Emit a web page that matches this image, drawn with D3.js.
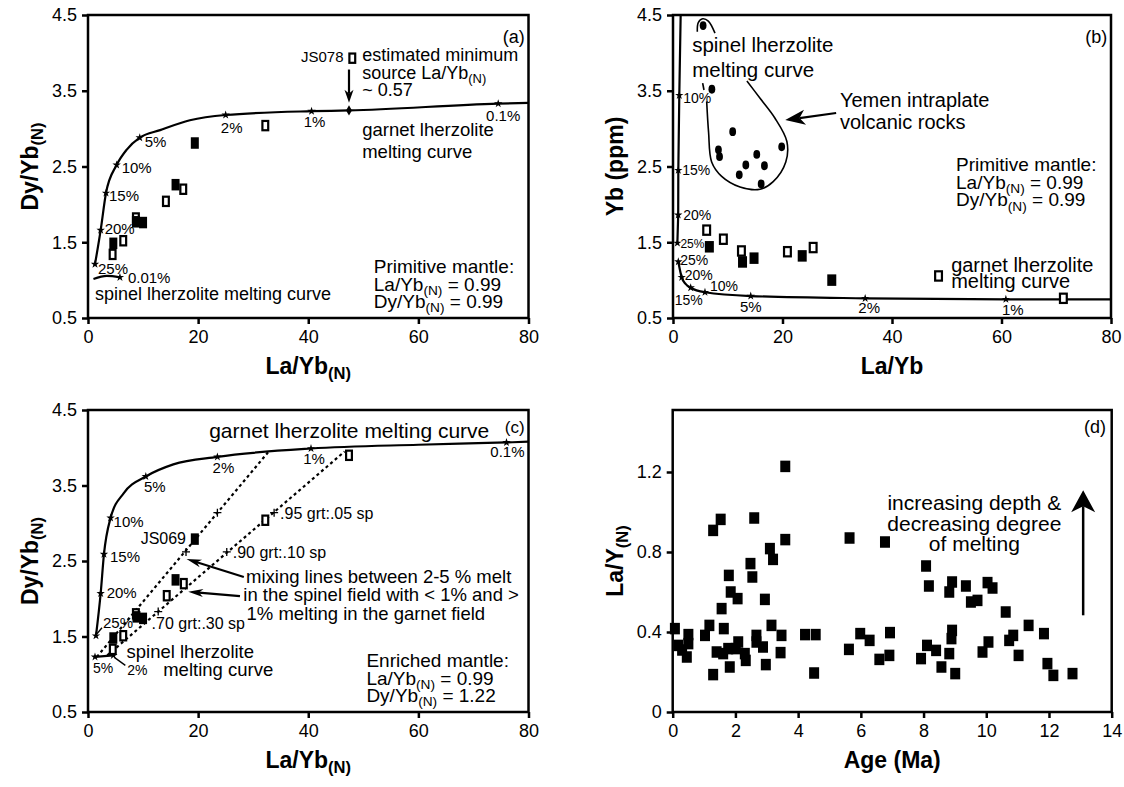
<!DOCTYPE html>
<html><head><meta charset="utf-8">
<script src="https://cdn.jsdelivr.net/npm/d3@7"></script>
<style>
body{margin:0;background:#fff;}
svg{display:block;}
text{white-space:pre;}
</style></head><body>
<svg id="chart" width="1124" height="787"></svg>
<script>
// ================= DATA =================
// ---- Panel (a): Dy/Yb(N) vs La/Yb(N), primitive mantle source ----
const aXTicks = [0, 20, 40, 60, 80];
const aXTickLabels = ["0", "20", "40", "60", "80"];
const aYTicks = [0.5, 1.5, 2.5, 3.5, 4.5];
const aYTickLabels = ["0.5", "1.5", "2.5", "3.5", "4.5"];
const aGarnetCurveX = [1.27, 2.3, 3.27, 5.2, 7.0, 9.4, 13.1, 18.5, 25.0, 40.6, 47.4, 74.5, 80];
const aGarnetCurveY = [1.21, 1.66, 2.15, 2.52, 2.72, 2.88, 2.98, 3.11, 3.18, 3.23, 3.24, 3.33, 3.34];
const aMeltLabels = ["25%", "20%", "15%", "10%", "5%", "2%", "1%", "0.1%"];
const aMeltX = [1.27, 2.3, 3.27, 5.2, 9.4, 25.0, 40.6, 74.5];
const aMeltY = [1.21, 1.66, 2.15, 2.52, 2.88, 3.18, 3.23, 3.33];
const aSpinelX = [0.99, 3.4, 5.8];
const aSpinelY = [1.015, 1.055, 1.037];
const aSpinelMarkLabel = "0.01%";
const aOpenX = [4.47, 6.4, 8.7, 14.15, 17.3, 32.2, 48.0];
const aOpenY = [1.34, 1.52, 1.82, 2.04, 2.20, 3.04, 3.93];
const aFilledX = [4.6, 8.7, 10.0, 15.9, 19.4];
const aFilledY = [1.486, 1.77, 1.76, 2.26, 2.81];
const aMinSource = [47.4, 3.24];

// ---- Panel (b): Yb (ppm) vs La/Yb ----
const bXTicks = [0, 20, 40, 60, 80];
const bXTickLabels = ["0", "20", "40", "60", "80"];
const bYTicks = [0.5, 1.5, 2.5, 3.5, 4.5];
const bYTickLabels = ["0.5", "1.5", "2.5", "3.5", "4.5"];
const bSpinelX = [1.4, 1.15, 0.97, 0.95, 0.8];
const bSpinelY = [4.5, 3.44, 2.45, 1.86, 1.49];
const bSpinelMarkLabels = ["10%", "15%", "20%", "25%"];
const bSpinelMarkX = [1.15, 0.97, 0.95, 0.8];
const bSpinelMarkY = [3.44, 2.45, 1.86, 1.49];
const bGarnetCurveX = [0.97, 1.59, 2.3, 3.23, 5.84, 14.2, 35.1, 60.8, 80];
const bGarnetCurveY = [1.243, 1.037, 0.95, 0.90, 0.84, 0.79, 0.76, 0.747, 0.745];
const bGarnetMarkLabels = ["25%", "20%", "15%", "10%", "5%", "2%", "1%"];
const bGarnetMarkX = [0.97, 1.59, 3.23, 5.84, 14.2, 35.1, 60.8];
const bGarnetMarkY = [1.243, 1.037, 0.90, 0.84, 0.79, 0.76, 0.747];
const bOpenX = [6.15, 9.2, 12.5, 20.9, 25.6, 48.5, 71.3];
const bOpenY = [1.66, 1.54, 1.385, 1.375, 1.43, 1.055, 0.76];
const bFilledX = [6.64, 12.7, 14.8, 23.6, 29.0];
const bFilledY = [1.44, 1.24, 1.29, 1.32, 1.0];
const bYemenX = [5.5, 7.1, 10.9, 8.3, 8.5, 15.3, 19.85, 13.3, 16.7, 12.1, 16.1];
const bYemenY = [4.36, 3.52, 2.96, 2.72, 2.63, 2.66, 2.76, 2.52, 2.51, 2.39, 2.27];
const bEnvelopeX = [6.15, 6.5, 7.06, 8.89, 12.24, 15.9, 18.3, 20.6, 20.8, 18.6, 15.9, 13.5];
const bEnvelopeY = [3.36, 2.95, 2.56, 2.37, 2.23, 2.20, 2.30, 2.56, 2.83, 3.14, 3.40, 3.63];
const bEnvelopeTopX = [4.44, 4.62, 5.42, 6.45, 7.67];
const bEnvelopeTopY = [4.28, 4.40, 4.45, 4.42, 4.26];
const bEnvelopeTickX = [5.42, 5.66];
const bEnvelopeTickY = [3.60, 3.51];

// ---- Panel (c): Dy/Yb(N) vs La/Yb(N), enriched mantle + mixing lines ----
const cXTicks = [0, 20, 40, 60, 80];
const cXTickLabels = ["0", "20", "40", "60", "80"];
const cYTicks = [0.5, 1.5, 2.5, 3.5, 4.5];
const cYTickLabels = ["0.5", "1.5", "2.5", "3.5", "4.5"];
const cGarnetCurveX = [1.45, 2.3, 2.9, 4.1, 6.5, 10.5, 15.5, 23.5, 40.5, 60, 76, 80];
const cGarnetCurveY = [1.51, 2.07, 2.59, 3.07, 3.40, 3.62, 3.78, 3.88, 3.99, 4.04, 4.07, 4.08];
const cMeltLabels = ["25%", "20%", "15%", "10%", "5%", "2%", "1%", "0.1%"];
const cMeltX = [1.45, 2.3, 2.9, 4.1, 10.5, 23.5, 40.5, 76];
const cMeltY = [1.51, 2.07, 2.59, 3.07, 3.62, 3.88, 3.99, 4.07];
const cSpinelX = [1.27, 4.6];
const cSpinelY = [1.23, 1.25];
const cSpinelMarkLabels = ["5%", "2%"];
const cMix1X = [1.6, 32.7];
const cMix1Y = [1.23, 3.94];
const cMix2X = [3.5, 46.6];
const cMix2Y = [1.25, 3.95];
const cMixTickX = [17.8, 23.5, 12.75, 25.2, 33.8];
const cMixTickY = [2.62, 3.14, 1.83, 2.62, 3.14];
const cMixLabels = [".70 grt:.30 sp", ".90 grt:.10 sp", ".95 grt:.05 sp"];
const cMixLabelX = [12.75, 25.2, 33.8];
const cMixLabelY = [1.83, 2.62, 3.14];
const cOpenX = [4.5, 6.4, 8.7, 14.3, 17.4, 32.2, 47.4];
const cOpenY = [1.33, 1.51, 1.80, 2.04, 2.20, 3.04, 3.90];
const cFilledX = [4.6, 8.8, 10.0, 15.9, 19.4];
const cFilledY = [1.48, 1.76, 1.74, 2.25, 2.79];

// ---- Panel (d): La/Y(N) vs Age (Ma) ----
const dXTicks = [0, 2, 4, 6, 8, 10, 12, 14];
const dXTickLabels = ["0", "2", "4", "6", "8", "10", "12", "14"];
const dYTicks = [0, 0.4, 0.8, 1.2];
const dYTickLabels = ["0", "0.4", "0.8", "1.2"];
const dAge = [0.07,0.50,0.18,0.50,0.45,0.30,1.03,1.17,1.29,1.53,1.29,1.40,1.56,1.63,1.61,1.77,1.82,1.79,1.85,2.07,
  2.09,2.01,2.33,2.30,2.48,2.54,2.60,2.67,2.67,2.88,2.94,2.97,3.10,3.20,3.15,3.47,3.44,3.59,3.59,4.22,
  4.56,4.51,5.64,5.62,5.98,6.28,6.59,6.91,6.93,6.77,7.92,8.08,8.17,8.11,8.40,8.57,8.82,8.91,8.91,8.89,
  8.82,9.01,9.35,9.51,9.72,10.04,10.2,9.88,10.07,10.62,10.73,10.86,11.03,11.35,11.84,11.95,12.14,12.75];
const dLaY = [0.417,0.387,0.333,0.342,0.275,0.31,0.383,0.433,0.908,0.963,0.187,0.30,0.517,0.417,0.292,0.317,0.225,0.683,0.60,0.567,
  0.35,0.317,0.258,0.292,0.742,0.675,0.97,0.383,0.35,0.325,0.563,0.237,0.817,0.763,0.433,0.383,0.297,1.228,0.862,0.387,
  0.387,0.195,0.87,0.313,0.392,0.358,0.263,0.283,0.397,0.85,0.267,0.73,0.63,0.333,0.308,0.225,0.60,0.65,0.408,0.367,
  0.292,0.192,0.63,0.55,0.558,0.647,0.62,0.30,0.35,0.50,0.358,0.383,0.283,0.433,0.392,0.242,0.183,0.192];

// ================= DRAWING =================
const FONT = '"Liberation Sans", Arial, Helvetica, sans-serif';
const svg = d3.select("#chart").attr("font-family", FONT);
svg.append("rect").attr("width", 1124).attr("height", 787).attr("fill", "#fff");

function makePanel(x0, x1, y0, y1, xDom, yDom) {
  return {
    x: d3.scaleLinear().domain(xDom).range([x0, x1]),
    y: d3.scaleLinear().domain(yDom).range([y1, y0])
  };
}
const PA = makePanel(88, 528.5, 15, 318, [0, 80], [0.5, 4.5]);
const PB = makePanel(673, 1111, 15, 318, [0, 80], [0.5, 4.5]);
const PC = makePanel(88, 528.5, 410, 712, [0, 80], [0.5, 4.5]);
const PD = makePanel(672.7, 1111.7, 410, 712, [0, 14], [0, 1.51]);

function richPx(x, y, parts, size, anchor, weight, rotate) {
  const t = svg.append("text")
    .attr("font-size", size).attr("text-anchor", anchor || "start")
    .attr("font-weight", weight || "normal").attr("fill", "#000");
  if (rotate) t.attr("transform", `translate(${x},${y}) rotate(-90)`);
  else t.attr("x", x).attr("y", y);
  let shifted = 0;
  for (const p of parts) {
    const sub = Array.isArray(p);
    const span = t.append("tspan").text(sub ? p[0] : p).attr("fill", "#000");
    const target = sub ? size * 0.22 : 0;
    if (target !== shifted) { span.attr("dy", target - shifted); shifted = target; }
    if (sub) span.attr("font-size", size * 0.72);
  }
  return t;
}
function rich(P, x, y, parts, size, anchor, weight) {
  return richPx(P.x(x), P.y(y), parts, size, anchor, weight);
}

function frameAndAxes(P, xt, xl, yt, yl, xTitle, yTitle) {
  const [x0, x1] = P.x.range(), [yb, yt0] = P.y.range();
  const gx = svg.append("g").attr("transform", `translate(0,${yb})`)
    .call(d3.axisBottom(P.x).tickValues(xt).tickFormat((d, i) => xl[i]).tickSize(6).tickPadding(6));
  const gy = svg.append("g").attr("transform", `translate(${x0},0)`)
    .call(d3.axisLeft(P.y).tickValues(yt).tickFormat((d, i) => yl[i]).tickSize(6).tickPadding(5));
  [gx, gy].forEach(g => {
    g.attr("font-family", FONT).attr("font-size", 18);
    g.select(".domain").remove();
    g.selectAll("line").attr("stroke", "#000").attr("stroke-width", 2.5);
    g.selectAll("text").attr("fill", "#000");
  });
  svg.append("rect").attr("x", x0).attr("y", yt0).attr("width", x1 - x0).attr("height", yb - yt0)
    .attr("fill", "none").attr("stroke", "#000").attr("stroke-width", 2.5);
  richPx((x0 + x1) / 2, yb + 56, xTitle, 23, "middle", "bold");
  richPx(x0 - 50, (yb + yt0) / 2, yTitle, 23, "middle", "bold", true);
}

function curve(P, xs, ys, curveType, opts) {
  opts = opts || {};
  const line = d3.line().x(d => P.x(d[0])).y(d => P.y(d[1])).curve(curveType || d3.curveLinear);
  const p = svg.append("path").attr("d", line(d3.zip(xs, ys))).attr("fill", "none")
    .attr("stroke", "#000").attr("stroke-width", opts.width || 2.2);
  if (opts.dash) p.attr("stroke-dasharray", opts.dash);
  return p;
}
function stars(P, xs, ys, size) {
  svg.append("g").selectAll("path").data(d3.zip(xs, ys)).join("path")
    .attr("transform", d => `translate(${P.x(d[0])},${P.y(d[1])})`)
    .attr("d", d3.symbol(d3.symbolStar, size || 22)()).attr("fill", "#000");
}
function labels(P, xs, ys, texts, offsets, size) {
  texts.forEach((t, i) => {
    const o = offsets[i];
    svg.append("text").attr("x", P.x(xs[i]) + o[0]).attr("y", P.y(ys[i]) + o[1])
      .attr("text-anchor", o[2] || "start").attr("font-size", o[3] || size).text(t);
  });
}
function squares(P, xs, ys, w, h, filled) {
  const sw = 2.2;
  svg.append("g").selectAll("rect").data(d3.zip(xs, ys)).join("rect")
    .attr("x", d => P.x(d[0]) - w / 2 + (filled ? 0 : sw / 2))
    .attr("y", d => P.y(d[1]) - h / 2 + (filled ? 0 : sw / 2))
    .attr("width", filled ? w : w - sw).attr("height", filled ? h : h - sw)
    .attr("fill", filled ? "#000" : "#fff")
    .attr("stroke", filled ? "none" : "#000").attr("stroke-width", sw);
}
function arrow(P, x1, y1, x2, y2, L, W, sw) {
  const X1 = P.x(x1), Y1 = P.y(y1), X2 = P.x(x2), Y2 = P.y(y2);
  const a = Math.atan2(Y2 - Y1, X2 - X1), ux = Math.cos(a), uy = Math.sin(a);
  const bx = X2 - ux * L, by = Y2 - uy * L, nx = X2 - ux * L * 0.72, ny = Y2 - uy * L * 0.72;
  svg.append("line").attr("x1", X1).attr("y1", Y1).attr("x2", nx).attr("y2", ny)
    .attr("stroke", "#000").attr("stroke-width", sw);
  const px = -uy, py = ux;
  const pts = [[X2, Y2], [bx + px * W / 2, by + py * W / 2], [nx, ny], [bx - px * W / 2, by - py * W / 2]];
  svg.append("path").attr("d", "M" + pts.map(p => p.join(",")).join("L") + "Z").attr("fill", "#000");
}
function plusMarks(P, xs, ys) {
  d3.zip(xs, ys).forEach(d => {
    const cx = P.x(d[0]), cy = P.y(d[1]);
    svg.append("path").attr("d", `M${cx - 4},${cy}H${cx + 4}M${cx},${cy - 4}V${cy + 4}`)
      .attr("stroke", "#000").attr("stroke-width", 1.3);
  });
}

// ---------- Panel (a) ----------
frameAndAxes(PA, aXTicks, aXTickLabels, aYTicks, aYTickLabels, ["La/Yb", ["(N)"]], ["Dy/Yb", ["(N)"]]);
curve(PA, aGarnetCurveX, aGarnetCurveY, d3.curveMonotoneX);
curve(PA, aSpinelX, aSpinelY, d3.curveMonotoneX);
stars(PA, aMeltX, aMeltY);
stars(PA, [aSpinelX[2]], [aSpinelY[2]]);
labels(PA, aMeltX, aMeltY, aMeltLabels,
  [[3, 9.5], [4, 4], [3, 8], [5, 8], [5, 9], [6, 18, "middle"], [3, 16, "middle"], [5, 17, "middle"]], 15);
labels(PA, [aSpinelX[2]], [aSpinelY[2]], [aSpinelMarkLabel], [[8, 6]], 15);
svg.append("path").attr("transform", `translate(${PA.x(aMinSource[0])},${PA.y(aMinSource[1])})`)
  .attr("d", d3.symbol(d3.symbolDiamond, 30)()).attr("fill", "#000");
squares(PA, aOpenX, aOpenY, 8, 11.5, false);
squares(PA, aFilledX, aFilledY, 8, 11.5, true);
arrow(PA, 47.4, 3.78, 47.4, 3.34, 13, 9, 2.2);
rich(PA, 79.3, 4.13, ["(a)"], 18, "end");
rich(PA, 46.4, 3.88, ["JS078"], 15, "end");
rich(PA, 49.8, 3.89, ["estimated minimum"], 18);
rich(PA, 49.8, 3.655, ["source La/Yb", ["(N)"]], 18);
rich(PA, 49.8, 3.43, ["~ 0.57"], 18);
rich(PA, 49.8, 2.90, ["garnet lherzolite"], 18.5);
rich(PA, 49.8, 2.61, ["melting curve"], 18.5);
rich(PA, 51.9, 1.088, ["Primitive mantle:"], 19);
rich(PA, 51.9, 0.86, ["La/Yb", ["(N)"], " = 0.99"], 19);
rich(PA, 51.9, 0.636, ["Dy/Yb", ["(N)"], " = 0.99"], 19);
rich(PA, 1.27, 0.738, ["spinel lherzolite melting curve"], 18);

// ---------- Panel (b) ----------
frameAndAxes(PB, bXTicks, bXTickLabels, bYTicks, bYTickLabels, ["La/Yb"], ["Yb (ppm)"]);
curve(PB, bSpinelX, bSpinelY, d3.curveLinear);
curve(PB, bGarnetCurveX, bGarnetCurveY, d3.curveMonotoneX);
stars(PB, bSpinelMarkX, bSpinelMarkY);
stars(PB, bGarnetMarkX, bGarnetMarkY);
labels(PB, bSpinelMarkX, bSpinelMarkY, bSpinelMarkLabels,
  [[4, 8], [4, 5], [5, 5], [3, 5, "start", 12]], 14);
labels(PB, bGarnetMarkX, bGarnetMarkY, bGarnetMarkLabels,
  [[2, 3], [3, 3], [-16, 17], [5, -1], [0, 16, "middle", 15], [4, 15, "middle", 15], [7, 16, "middle", 15]], 14);
curve(PB, bEnvelopeX, bEnvelopeY, d3.curveCatmullRom, {width: 1.6});
curve(PB, bEnvelopeTopX, bEnvelopeTopY, d3.curveCatmullRom, {width: 1.6});
curve(PB, bEnvelopeTickX, bEnvelopeTickY, d3.curveLinear, {width: 1.6});
svg.append("g").selectAll("ellipse").data(d3.zip(bYemenX, bYemenY)).join("ellipse")
  .attr("cx", d => PB.x(d[0])).attr("cy", d => PB.y(d[1])).attr("rx", 3.4).attr("ry", 4.4).attr("fill", "#000");
squares(PB, bOpenX, bOpenY, 9, 11.5, false);
squares(PB, bFilledX, bFilledY, 9, 11.5, true);
arrow(PB, 29.8, 3.206, 20.5, 3.114, 20, 15, 2.2);
rich(PB, 79.3, 4.13, ["(b)"], 18, "end");
rich(PB, 3.5, 4.016, ["spinel lherzolite"], 20.5);
rich(PB, 3.5, 3.685, ["melting curve"], 20.5);
rich(PB, 30.5, 3.29, ["Yemen intraplate"], 20);
rich(PB, 30.5, 3.0, ["volcanic rocks"], 20);
rich(PB, 51.7, 2.434, ["Primitive mantle:"], 19);
rich(PB, 51.7, 2.203, ["La/Yb", ["(N)"], " = 0.99"], 19);
rich(PB, 51.7, 1.972, ["Dy/Yb", ["(N)"], " = 0.99"], 19);
rich(PB, 50.8, 1.111, ["garnet lherzolite"], 20);
rich(PB, 50.8, 0.892, ["melting curve"], 20);

// ---------- Panel (c) ----------
frameAndAxes(PC, cXTicks, cXTickLabels, cYTicks, cYTickLabels, ["La/Yb", ["(N)"]], ["Dy/Yb", ["(N)"]]);
curve(PC, cGarnetCurveX, cGarnetCurveY, d3.curveMonotoneX);
curve(PC, cSpinelX, cSpinelY, d3.curveLinear);
curve(PC, cMix1X, cMix1Y, d3.curveLinear, {dash: "3,3", width: 2.2});
curve(PC, cMix2X, cMix2Y, d3.curveLinear, {dash: "3,3", width: 2.2});
stars(PC, cMeltX, cMeltY);
stars(PC, cSpinelX, cSpinelY);
plusMarks(PC, cMixTickX, cMixTickY);
labels(PC, cMeltX, cMeltY, cMeltLabels,
  [[7, -7.5], [6, 5], [6, 8], [3, 9], [9, 16, "middle"], [6, 16, "middle"], [3, 15, "middle"], [1, 15, "middle"]], 15);
svg.append("line").attr("x1", PC.x(cMeltX[0]) + 1).attr("y1", PC.y(cMeltY[0]) - 2)
  .attr("x2", PC.x(cMeltX[0]) + 6).attr("y2", PC.y(cMeltY[0]) - 8).attr("stroke", "#000").attr("stroke-width", 1.3);
labels(PC, cSpinelX, cSpinelY, cSpinelMarkLabels, [[8, 16, "middle"], [14, 20]], 14);
svg.append("line").attr("x1", PC.x(cSpinelX[1]) + 1).attr("y1", PC.y(cSpinelY[1]) + 2)
  .attr("x2", PC.x(cSpinelX[1]) + 12).attr("y2", PC.y(cSpinelY[1]) + 10).attr("stroke", "#000").attr("stroke-width", 1.3);
labels(PC, cMixLabelX, cMixLabelY, cMixLabels, [[-6.6, 17], [6, 6], [6, 6]], 16);
squares(PC, cOpenX, cOpenY, 8, 11.5, false);
squares(PC, cFilledX, cFilledY, 8, 11.5, true);
arrow(PC, 28.3, 2.288, 17.9, 2.527, 15, 8, 2.2);
arrow(PC, 27.6, 2.036, 18.2, 2.093, 15, 8, 2.2);
rich(PC, 22.0, 4.133, ["garnet lherzolite melting curve"], 21);
rich(PC, 79.3, 4.195, ["(c)"], 17, "end");
rich(PC, 17.8, 2.725, ["JS069"], 16, "end");
rich(PC, 28.7, 2.202, ["mixing lines between 2-5 % melt"], 18.5);
rich(PC, 28.2, 1.964, ["in the spinel field with < 1% and >"], 18.5);
rich(PC, 28.8, 1.719, ["1% melting in the garnet field"], 18.5);
rich(PC, 7.0, 1.215, ["spinel lherzolite"], 18.5);
rich(PC, 13.66, 0.977, ["melting curve"], 18.5);
rich(PC, 50.56, 1.096, ["Enriched mantle:"], 19);
rich(PC, 50.56, 0.858, ["La/Yb", ["(N)"], " = 0.99"], 19);
rich(PC, 50.56, 0.633, ["Dy/Yb", ["(N)"], " = 1.22"], 19);

// ---------- Panel (d) ----------
frameAndAxes(PD, dXTicks, dXTickLabels, dYTicks, dYTickLabels, ["Age (Ma)"], ["La/Y", ["(N)"]]);
squares(PD, dAge, dLaY, 10, 11.5, true);
arrow(PD, 13.09, 0.4835, 13.09, 1.1085, 22, 24, 2.5);
rich(PD, 13.82, 1.394, ["(d)"], 18, "end");
rich(PD, 9.62, 1.011, ["increasing depth &"], 21, "middle");
rich(PD, 9.62, 0.9035, ["decreasing degree"], 21, "middle");
rich(PD, 9.62, 0.8035, ["of melting"], 21, "middle");
</script></body></html>
